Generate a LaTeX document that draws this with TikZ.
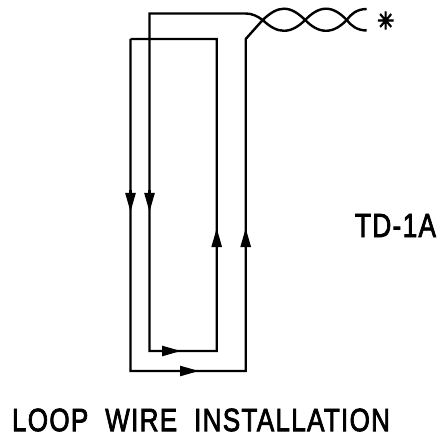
\documentclass[tikz,border=0pt]{standalone}
\usepackage{fontspec}
\setmainfont[FakeBold=2.6,LetterSpace=5]{Liberation Sans}
\newfontfamily\starfont[FakeBold=5]{DejaVu Sans}
\usetikzlibrary{arrows.meta}
\tikzset{
  wire/.style={line width=2.4bp,line cap=butt,line join=miter,black},
  flow/.style={line width=2.4bp,black,-{Triangle[length=19bp,width=10bp,sep=0pt]},shorten >=0pt},
  lbl/.style={inner sep=0pt,outer sep=0pt,anchor=center,black}
}
\begin{document}
\begin{tikzpicture}[x=1bp,y=-1bp]
\useasboundingbox (0,0) rectangle (438,437);
\fill[white] (0,0) rectangle (438,437);
% named points
\coordinate (a1) at (130.5,39);
\coordinate (a2) at (130.5,371);
\coordinate (a3) at (245.7,371);
\coordinate (a4) at (245.7,39);
\coordinate (b1) at (149.5,13.5);
\coordinate (b2) at (149.5,351);
\coordinate (b3) at (216.7,351);
\coordinate (b4) at (216.7,39);
\coordinate (c1) at (262.7,20);
\coordinate (c2) at (305.2,20);
\coordinate (c3) at (346.7,20);
\coordinate (e1) at (366.7,9);
\coordinate (e2) at (366.7,30.5);
% long loop
\draw[wire] (a1) -- (a2) -- (a3) -- (a4) -- (c1);
% inner loop
\draw[wire] (a1) -- (b4) -- (b3) -- (b2) -- (b1) -- (245.7,13.5)
  .. controls (252,13.5) and (257,16) .. (c1);
% twist
\draw[wire] (c1) .. controls (270,27) and (277,30.8) .. (284,30.8)
  .. controls (292,30.8) and (299,26) .. (c2)
  .. controls (311,14) and (318,8.7) .. (326,8.7)
  .. controls (334,8.7) and (341,14) .. (c3)
  .. controls (351,25.5) and (357,30.5) .. (e2);
\draw[wire] (c1) .. controls (270,13) and (277,8.7) .. (284,8.7)
  .. controls (292,8.7) and (299,14) .. (c2)
  .. controls (311,26) and (318,30.8) .. (326,30.8)
  .. controls (334,30.8) and (341,26) .. (c3)
  .. controls (351,14) and (357,9) .. (e1);
% arrows
\draw[flow] (130.5,190) -- (130.5,212);
\draw[flow] (149.5,190) -- (149.5,212);
\draw[flow] (216.7,250) -- (216.7,228);
\draw[flow] (245.7,250) -- (245.7,228);
\draw[flow] (160,351) -- (181,351);
\draw[flow] (178,371) -- (199,371);
% labels
\node[lbl] (star) at (385.7,20.5) {\resizebox{17bp}{17bp}{\starfont ✳}};
\node[lbl] (td) at (395.5,225.5) {\resizebox{81bp}{23bp}{TD-1A}};
\node[lbl] (title) at (201,420) {\resizebox{378bp}{22.5bp}{LOOP\hspace{0.65em}WIRE\hspace{0.65em}INSTALLATION}};
\end{tikzpicture}
\end{document}
